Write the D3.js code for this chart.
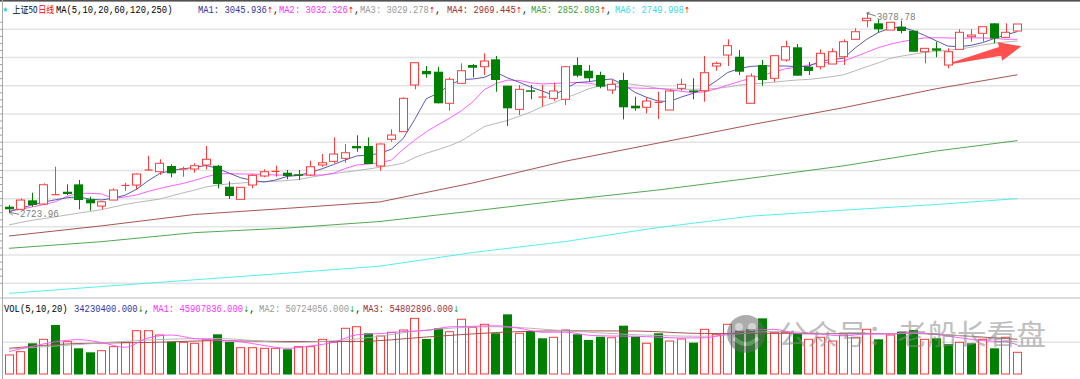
<!DOCTYPE html>
<html><head><meta charset="utf-8">
<script src="https://cdn.jsdelivr.net/npm/d3@7"></script>
<style>body{margin:0;background:#fff;}svg{display:block;}</style>
</head><body><svg id="c" width="1080" height="379"></svg>
<script>
// ---------- DATA ----------
const open=[2735.7,2731.1,2747.0,2740.4,2755.2,2762.2,2775.3,2748.8,2736.9,2747.5,2772.3,2774.1,2798.9,2797.7,2807.8,2801.2,2802.5,2809.6,2808.3,2771.1,2748.8,2774.1,2790.1,2797.2,2795.9,2793.1,2791.8,2809.6,2816.1,2821.4,2843.2,2843.2,2807.8,2855.1,2868.6,2951.3,2976.1,2974.9,2918.9,2954.3,2986.7,2983.7,2996.8,2950.1,2908.2,2941.9,2928.8,2927.7,2926.0,2986.7,2976.6,2969.0,2942.4,2960.2,2914.6,2911.8,2919.4,2907.0,2945.4,2941.7,2941.2,2985.0,3004.4,3001.4,2918.9,2986.7,2963.2,2995.6,3018.1,2983.7,2983.7,2988.5,3001.4,3032.3,3065.2,3060.6,3048.7,3054.6,3047.5,3010.3,3016.3,2986.7,3014.5,3036.9,3042.9,3060.6,3035.8,3047.0];
const high=[2738.6,2750.5,2760.5,2777.1,2806.5,2775.3,2783.0,2753.4,2745.8,2768.3,2778.2,2794.8,2826.0,2819.7,2810.8,2806.5,2812.6,2843.2,2809.6,2780.7,2770.0,2793.6,2801.9,2808.3,2800.7,2800.7,2817.2,2829.0,2858.6,2846.8,2862.2,2858.6,2848.0,2872.8,2929.5,2990.8,2985.0,2983.7,2964.9,2989.7,2988.5,3007.5,3002.7,2950.1,2951.3,2951.3,2951.3,2955.4,2985.0,3000.4,2986.7,2974.9,2961.4,2973.1,2930.6,2929.5,2939.4,2943.7,2962.5,2963.2,3002.7,2992.6,3032.3,3013.3,2972.0,2995.6,3003.2,3029.8,3023.9,2992.0,3014.5,3016.3,3032.3,3051.8,3078.78,3067.7,3062.4,3065.2,3047.5,3016.3,3028.0,3016.3,3050.0,3050.5,3054.6,3060.6,3060.6,3059.4];
const low=[2723.96,2729.8,2735.7,2738.7,2755.2,2756.4,2731.1,2728.6,2731.1,2747.5,2764.0,2765.3,2798.9,2791.8,2787.8,2788.8,2795.9,2801.9,2768.3,2749.3,2748.8,2768.3,2787.8,2788.8,2784.2,2783.0,2790.1,2806.5,2812.6,2813.6,2833.1,2811.3,2799.5,2850.8,2868.6,2943.7,2964.2,2918.9,2905.8,2954.3,2964.9,2969.0,2939.4,2878.6,2898.1,2926.0,2912.8,2923.5,2915.9,2964.9,2957.2,2945.4,2935.4,2890.5,2905.8,2901.1,2891.1,2907.0,2941.2,2926.0,2921.7,2976.6,2985.0,2969.0,2918.9,2950.1,2957.2,2992.6,2967.8,2969.0,2979.1,2988.5,2986.7,3032.3,3053.5,3044.0,3048.7,3042.9,3010.3,2989.7,3000.4,2980.9,3014.5,3028.0,3028.0,3025.2,3035.8,3047.0];
const close=[2731.1,2747.5,2738.7,2774.6,2757.0,2758.2,2747.5,2741.7,2744.5,2765.3,2773.4,2793.6,2800.7,2812.6,2794.8,2802.5,2808.3,2819.7,2775.9,2754.6,2770.0,2791.3,2797.7,2798.2,2790.1,2790.6,2806.5,2813.6,2829.0,2831.3,2839.1,2811.3,2846.8,2862.7,2927.7,2990.8,2970.3,2918.9,2961.4,2976.6,2981.9,2993.8,2960.2,2910.0,2943.7,2940.7,2930.0,2940.7,2983.7,2967.8,2963.2,2948.3,2952.5,2911.8,2910.0,2922.9,2920.5,2940.7,2952.5,2940.7,2973.1,2989.7,3020.9,2974.9,2967.2,2960.2,3003.2,3019.2,2967.8,2976.1,3007.5,3010.3,3028.0,3045.7,3069.5,3050.0,3062.4,3047.0,3010.3,3016.3,3012.1,3010.3,3044.7,3039.9,3054.6,3034.0,3044.7,3059.4];
// volume in millions of shares
const volume=[30.0,35.2,48.4,54.7,77.3,51.0,40.5,34.2,36.8,43.1,50.0,68.3,68.3,61.5,51.0,50.0,48.4,53.6,62.6,50.5,41.5,41.5,40.5,40.5,39.0,43.1,43.1,54.7,50.0,72.1,74.6,64.2,59.9,65.8,69.4,87.8,55.2,72.1,66.7,86.3,73.6,78.4,64.2,94.1,64.2,67.8,56.3,57.9,69.4,62.6,53.6,58.8,57.2,76.2,58.8,48.4,64.2,52.0,55.2,49.4,70.5,62.6,78.4,68.3,70.5,87.8,65.1,65.8,64.2,54.7,57.9,52.0,61.5,57.9,70.5,54.7,61.5,66.7,69.4,54.7,56.3,47.3,50.0,48.4,54.7,40.5,57.9,34.2304];
// volume bar colour: r = up on previous close, g = down
const volDir="rrgrgrggrrrrrrgrrrggrrrrgrrrrrrgrrrrggrrrrggrggrrgggrggrgrrgrrrgggrrgrrrrrrgrggrggrgrgrr";
// price moving averages, one value per candle
const ma5=[2727.2,2733.0,2738.9,2744.0,2747.9,2751.6,2753.2,2749.0,2747.7,2750.9,2756.0,2766.5,2781.6,2794.5,2799.8,2802.8,2805.3,2808.7,2803.5,2795.0,2786.9,2782.4,2779.4,2783.0,2789.4,2791.1,2796.6,2802.8,2810.4,2818.4,2825.7,2827.1,2830.3,2837.7,2856.3,2890.2,2927.0,2936.6,2950.8,2961.0,2961.9,2964.8,2974.0,2964.1,2956.3,2947.8,2940.7,2932.9,2944.9,2955.7,2957.1,2960.2,2961.9,2952.2,2938.4,2929.5,2922.9,2922.1,2930.0,2936.4,2944.9,2958.2,2973.4,2980.5,2984.3,2985.3,2985.0,2985.0,2983.7,2984.4,2993.8,2996.3,2998.8,3016.9,3032.3,3044.3,3051.9,3054.1,3047.7,3039.2,3029.6,3020.2,3019.2,3021.6,3026.4,3033.7,3040.1,3045.936];
const ma10=[2727.2,2731.2,2735.3,2739.4,2744.5,2754.1,2759.4,2759.4,2758.3,2750.6,2753.0,2756.4,2762.8,2767.9,2772.7,2776.8,2782.3,2788.5,2793.8,2794.3,2793.6,2793.6,2792.9,2791.8,2791.8,2791.8,2791.8,2791.8,2795.0,2803.3,2809.6,2811.3,2813.6,2818.4,2837.2,2853.5,2868.4,2880.8,2892.5,2905.2,2921.4,2943.0,2954.0,2960.0,2959.4,2955.2,2953.1,2954.1,2955.2,2955.7,2954.5,2951.3,2948.8,2947.2,2946.0,2945.4,2945.3,2942.8,2940.1,2937.8,2939.2,2944.4,2951.1,2957.5,2963.5,2968.7,2974.0,2980.2,2982.8,2986.7,2990.3,2991.7,2993.8,3001.4,3009.4,3017.4,3023.6,3028.0,3031.7,3034.6,3035.1,3034.7,3034.0,3034.7,3034.7,3033.9,3032.3,3032.326];
const ma20=[2703.4,2707.7,2711.7,2714.6,2717.8,2721.1,2724.3,2727.3,2730.5,2735.1,2739.7,2743.1,2746.1,2749.3,2754.6,2760.1,2765.1,2770.6,2773.9,2776.2,2777.7,2778.9,2780.3,2780.7,2782.1,2783.9,2787.8,2791.3,2794.1,2797.1,2799.6,2802.5,2805.7,2808.8,2812.7,2822.7,2830.5,2836.7,2843.6,2851.9,2864.7,2877.6,2883.1,2888.4,2895.8,2903.3,2913.0,2919.9,2928.1,2935.9,2944.7,2949.7,2953.1,2954.3,2952.2,2949.0,2945.3,2944.4,2943.7,2943.7,2944.0,2945.1,2947.6,2951.1,2952.9,2954.7,2956.3,2958.4,2960.2,2961.2,2963.5,2966.2,2969.4,2976.5,2983.7,2990.5,2998.4,3002.5,3005.9,3008.9,3010.8,3013.0,3014.9,3018.3,3022.2,3025.5,3027.5,3029.278];
// long moving averages, read at these candle indices
const longIdx=[0,8,16,24,32,40,48,56,64,72,80,87];
const ma60=[2683.8,2701.8,2721.9,2732.8,2744.2,2777.7,2816.3,2848.4,2880.8,2911.1,2944.7,2969.445];
const ma120=[2662.0,2673.8,2689.8,2697.9,2709.5,2728.0,2747.4,2765.3,2786.2,2808.1,2834.4,2852.803];
const ma250=[2582.2,2594.3,2606.2,2618.0,2630.4,2654.5,2674.0,2698.8,2719.0,2729.6,2739.6,2749.998];
// volume moving averages (millions)
const vma5Idx=[0,2,4,6,8,10,12,14,16,18,20,22,24,26,28,30,32,34,36,38,40,42,44,46,48,50,52,54,56,58,60,62,64,66,68,70,72,74,76,78,80,82,84,86,87];
const vma5=[35.3,43.7,50.8,54.2,49.5,42.1,56.9,61.5,55.8,53.6,50.9,44.9,40.5,44.2,50.1,61.8,63.7,67.0,68.6,74.4,75.2,76.0,72.2,65.9,65.9,61.2,59.9,59.6,57.9,56.8,57.1,63.1,68.8,70.5,63.7,62.6,60.2,63.1,62.8,64.7,62.4,57.2,52.5,50.8,45.907836];
const vmaIdx=[0,6,12,18,24,30,36,42,48,54,60,66,72,78,84,87];
const vma10=[39.4,46.5,53.6,56.0,49.7,55.2,69.4,74.6,68.1,62.0,59.5,67.3,62.8,64.2,57.1,50.724056];
const vma20=[40.5,48.1,49.7,52.5,51.3,51.3,58.3,65.4,68.1,67.8,63.9,64.2,63.9,63.9,58.2,54.802896];
// header values
const priceTitle=["上证50","日线","MA(5,10,20,60,120,250)"];
const maNames=["MA1","MA2","MA3","MA4","MA5","MA6"];
const maLast=[3045.936,3032.326,3029.278,2969.445,2852.803,2749.998];
const volTitle="VOL(5,10,20)";
const volLast=34230400.000;
const vmaNames=["MA1","MA2","MA3"];
const vmaLast=[45907836.000,50724056.000,54802896.000];
const priceTicks=[2600,2650,2700,2750,2800,2850,2900,2950,3000,3050];
const volTicks=[50];
const watermark="公众号：老船长看盘";

// ---------- DRAW ----------
const svg=d3.select('#c');
svg.append('rect').attr('width',1080).attr('height',379).attr('fill','#fff');
const N=close.length;
const x=d3.scaleBand().domain(d3.range(N)).range([3.2,1023.2]).paddingInner(0.25).paddingOuter(0.125);
const bw=x.bandwidth();
const cx=i=>x(i)+bw/2;
const yP=d3.scaleLinear().domain([2600,3050]).range([283.3,29.3]);
const yV=d3.scaleLinear().domain([0,50]).range([374,342.3]);

const RED='#ff3b3b', GREEN='#008000';
const C={ma5:'#4848a8',ma10:'#ff4cff',ma20:'#b0b0b0',ma60:'#a04040',ma120:'#3f9f3f',ma250:'#40eeee'};

// grid
svg.append('g').selectAll('line').data(priceTicks).join('line')
  .attr('x1',3).attr('x2',1080).attr('y1',d=>yP(d)).attr('y2',d=>yP(d))
  .attr('stroke','#e4e4e4').attr('stroke-width',1.5);
svg.append('g').selectAll('line').data(volTicks).join('line')
  .attr('x1',3).attr('x2',1080).attr('y1',d=>yV(d)).attr('y2',d=>yV(d))
  .attr('stroke','#e4e4e4').attr('stroke-width',1.5);
// frame
svg.append('rect').attr('x',0).attr('y',0).attr('width',1080).attr('height',1.6).attr('fill','#505050');
svg.append('line').attr('x1',0).attr('x2',1080).attr('y1',298).attr('y2',298).attr('stroke','#cfcfcf').attr('stroke-width',1.5);
svg.append('line').attr('x1',2.5).attr('x2',2.5).attr('y1',0).attr('y2',379).attr('stroke','#a8a8a8').attr('stroke-width',1);
// left ruler ticks
const rt=d3.range(2600,3075,12.5);
svg.append('g').selectAll('line').data(rt).join('line')
  .attr('x1',0).attr('x2',d=>d%50===0?3:2).attr('y1',d=>yP(d)).attr('y2',d=>yP(d))
  .attr('stroke','#a0a0a0').attr('stroke-width',1);

// MA lines (drawn under candles)
const lineP=d3.line().x(d=>cx(d[0])).y(d=>yP(d[1]));
function drawMA(idxs,vals,col,w){
  svg.append('path').datum(idxs.map((k,j)=>[k,vals[j]])).attr('d',lineP)
    .attr('fill','none').attr('stroke',col).attr('stroke-width',w||1).attr('stroke-opacity',0.9);
}
const allIdx=d3.range(N);
drawMA(longIdx,ma250,C.ma250);
drawMA(longIdx,ma120,C.ma120);
drawMA(longIdx,ma60,C.ma60);
drawMA(allIdx,ma20,C.ma20);
drawMA(allIdx,ma10,C.ma10);
drawMA(allIdx,ma5,C.ma5);

// candles
const cg=svg.append('g');
for(let i=0;i<N;i++){
  const up=close[i]>=open[i];
  const col=up?RED:GREEN;
  const c=Math.round(cx(i))+0.5;
  const top=yP(Math.max(open[i],close[i])), bot=yP(Math.min(open[i],close[i]));
  const left=Math.round(cx(i)-bw/2)+0.5, w=Math.round(bw)-1;
  if(up){
    cg.append('line').attr('x1',c).attr('x2',c).attr('y1',yP(high[i])).attr('y2',top).attr('stroke',col);
    cg.append('line').attr('x1',c).attr('x2',c).attr('y1',bot).attr('y2',yP(low[i])).attr('stroke',col);
    if(bot-top<1.5){
      cg.append('line').attr('x1',left).attr('x2',left+w).attr('y1',top).attr('y2',top).attr('stroke',col).attr('stroke-width',1.2);
    } else {
      cg.append('rect').attr('x',left).attr('y',top).attr('width',w).attr('height',bot-top)
        .attr('fill','#fff').attr('stroke',col).attr('stroke-width',1);
    }
  } else {
    cg.append('line').attr('x1',c).attr('x2',c).attr('y1',yP(high[i])).attr('y2',yP(low[i])).attr('stroke',col);
    cg.append('rect').attr('x',left-0.5).attr('y',top).attr('width',w+1).attr('height',Math.max(1.5,bot-top)).attr('fill',col);
  }
}

// horizontally condensed text (like the terminal's narrow bitmap font)
const SX=5.3/6.3;
function ctext(parent,x,y,txt,col,font,size){
  const t=parent.append('text').attr('x',x/SX).attr('y',y).text(txt).attr('fill',col)
    .attr('font-family',font).attr('font-size',size);
  return t.node().getComputedTextLength()*SX;
}
const MONO='Liberation Mono, DejaVu Sans Mono, monospace';

// high / low labels
const iH=d3.maxIndex(high), iL=d3.minIndex(low);
const hx=cx(iH), hy=yP(high[iH]);
svg.append('path').attr('d',`M${hx},${hy} L${hx+9},${hy+3}`).attr('stroke','#808080').attr('fill','none');
svg.append('path').attr('d',`M${hx},${hy} l3,-1 M${hx},${hy} l2,2`).attr('stroke','#808080').attr('fill','none');
const lx=cx(iL), ly=yP(low[iL]);
svg.append('path').attr('d',`M${lx+1},${ly-1} L${lx+10},${ly+1} M${lx+1},${ly-1} l3,-2.5 M${lx+1},${ly-1} l2.5,3`).attr('stroke','#808080').attr('fill','none');
const lg=svg.append('g').attr('transform',`scale(${SX},1)`);
ctext(lg,hx+10,hy+7,high[iH].toFixed(2),'#808080',MONO,11);
ctext(lg,lx+11,ly+4,low[iL].toFixed(2),'#808080',MONO,11);

// red arrow annotation (anchored to candles)
(function(){
  const t=[cx(81)+4,yP(2990)], p=[cx(87)+4,yP(3020)];
  const dx=p[0]-t[0], dy=p[1]-t[1], L=Math.hypot(dx,dy), u=[dx/L,dy/L], n=[-u[1],u[0]];
  const nk=[p[0]-u[0]*22,p[1]-u[1]*22];
  const pt=(b,s)=>[b[0]+n[0]*s,b[1]+n[1]*s];
  const pts=[pt(t,0.8),pt(nk,4.5),pt(nk,9.5),p,pt(nk,-9.5),pt(nk,-4.5),pt(t,-0.8)];
  svg.append('path').attr('d','M'+pts.map(q=>q.join(',')).join('L')+'Z').attr('fill','#ff5050');
})();

// volume bars
const vg=svg.append('g');
for(let i=0;i<N;i++){
  const up=volDir[i]==='r';
  const left=Math.round(cx(i)-bw/2)+0.5, w=Math.round(bw)-1;
  const t=yV(volume[i]);
  if(up) vg.append('rect').attr('x',left).attr('y',t).attr('width',w).attr('height',yV(0)-t).attr('fill','#fff').attr('stroke',RED);
  else vg.append('rect').attr('x',left-0.5).attr('y',t).attr('width',w+1).attr('height',yV(0)-t+0.5).attr('fill',GREEN);
}
const lineV=d3.line().x(d=>cx(d[0])).y(d=>yV(d[1])).curve(d3.curveMonotoneX);
function drawVMA(idxs,vals,col){
  svg.append('path').datum(idxs.map((k,j)=>[k,vals[j]])).attr('d',lineV)
    .attr('fill','none').attr('stroke',col).attr('stroke-width',1).attr('stroke-opacity',0.9);
}
drawVMA(vmaIdx,vma20,C.ma60);
drawVMA(vmaIdx,vma10,C.ma20);
drawVMA(vma5Idx,vma5,C.ma10);

// watermark
const wm=svg.append('g').attr('opacity',0.55);
wm.append('circle').attr('cx',746).attr('cy',334).attr('r',19).attr('fill','#6a6a6a');
wm.append('circle').attr('cx',739).attr('cy',327).attr('r',4).attr('fill','#b0b0b0');
wm.append('circle').attr('cx',752).attr('cy',327).attr('r',4).attr('fill','#b0b0b0');
wm.append('path').attr('d','M734,338 Q746,350 758,338').attr('stroke','#b0b0b0').attr('stroke-width',4).attr('fill','none');
wm.append('text').attr('x',778).attr('y',345).text(watermark)
  .attr('font-family','Noto Sans CJK SC').attr('font-size',28).attr('fill','#8a8a8a')
  .attr('textLength',268).attr('lengthAdjust','spacingAndGlyphs');

// headers
const hg=svg.append('g').attr('transform',`scale(${SX},1)`);
function item(x,y,txt,col,arrow,arrowCol,comma){
  const w1=ctext(hg,x,y,txt,col,MONO,10.5);
  const w2=ctext(hg,x+w1+0.3,y,arrow,arrowCol,'DejaVu Sans',8.5);
  if(comma) ctext(hg,x+w1+w2+0.5,y,',','#000',MONO,10.5);
}
const HY=13;
ctext(hg,2.5,12,'★','#22cccc','DejaVu Sans',7.5);
ctext(hg,12.5,HY,priceTitle[0],'#000','Noto Sans CJK SC',9.5);
ctext(hg,38.3,HY,priceTitle[1],'#ff0000','Noto Sans CJK SC',9.5);
ctext(hg,56,HY,priceTitle[2],'#000',MONO,10.5);
const maCol=['#3535a0','#ff33ff','#9a9a9a','#a03030','#3f9f3f','#30e0e0'];
const maX=[198,279,360,447,531,615];
maNames.forEach((nm,k)=>item(maX[k],HY,`${nm}: ${maLast[k].toFixed(3)}`,maCol[k],'↑','#ff0000',k<5));
const VY=312;
ctext(hg,4,VY,volTitle,'#000',MONO,10.5);
item(74,VY,volLast.toFixed(3),'#3535a0','↓','#00a000',true);
const vmaCol=['#ff33ff','#9a9a9a','#a03030'];
const vmaX=[153,259,363];
vmaNames.forEach((nm,k)=>item(vmaX[k],VY,`${nm}: ${vmaLast[k].toFixed(3)}`,vmaCol[k],'↓','#00a000',k<2));
</script></body></html>
